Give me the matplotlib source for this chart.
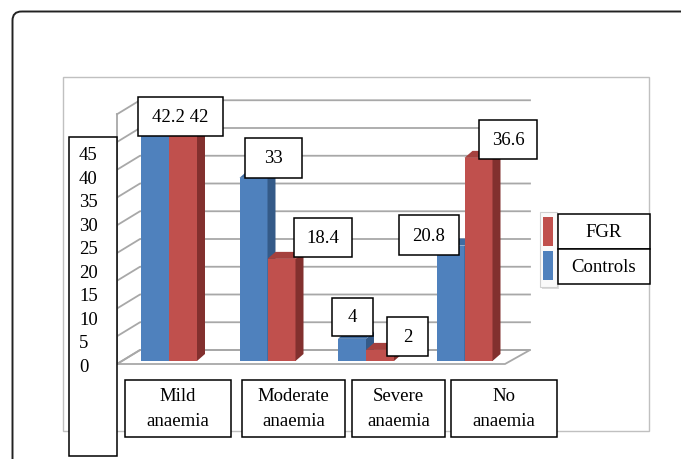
import matplotlib
matplotlib.use('Agg')
import matplotlib.pyplot as plt
from matplotlib.patches import Rectangle, Polygon, FancyBboxPatch

plt.rcParams['font.family'] = 'Liberation Serif'

categories = ['Mild\nanaemia', 'Moderate\nanaemia', 'Severe\nanaemia', 'No\nanaemia']
controls = [42.2, 33, 4, 20.8]
fgr = [42, 18.4, 2, 36.6]
yticks = [0, 5, 10, 15, 20, 25, 30, 35, 40, 45]
series = ['FGR', 'Controls']

blue, blue_side, blue_top = '#4F81BD', '#345A88', '#3F6CA2'
red, red_side, red_top = '#C0504D', '#82302E', '#A5413E'
grid = '#a8a8a8'
fs = 13.5

W, H = 681, 460
fig = plt.figure(figsize=(W / 100, H / 100), dpi=100)

# plot area: one unit per category, values going up
ax = fig.add_axes([0, 0, 1, 1])
ax.set_xlim(-169 / 98.5, (W - 169) / 98.5)
ax.set_ylim(-(H - 362) / 5.55, 362 / 5.55)
ax.axis('off')

# overlay in pixel units for frames and text boxes
ov = fig.add_axes([0, 0, 1, 1], facecolor='none')
ov.set_xlim(0, W)
ov.set_ylim(H, 0)
ov.axis('off')

# walls and floor (fake 3d)
back_dy = 11 / 5.55
front_dy = back_dy - 14 / 5.55
xl_f, xl_b = -52 / 98.5, -29 / 98.5
xr_f, xr_b = 336 / 98.5, 361 / 98.5

ax.add_patch(Polygon([(xl_f, front_dy), (xr_f, front_dy), (xr_b, back_dy), (xl_b, back_dy)],
                     closed=True, fc='white', ec=grid, lw=1.3, zorder=1))
for g in yticks:
    ax.plot([xl_f, xl_b, xr_b], [g + front_dy, g + back_dy, g + back_dy],
            color=grid, lw=1.3, zorder=1.5)
ax.plot([xl_f, xl_f], [front_dy, yticks[-1] + front_dy], color=grid, lw=1.3, zorder=1.5)

# bars
idx = list(range(len(categories)))
w = 28 / 98.5
dx, dy = 8 / 98.5, 7 / 5.55


def faces(x0, v, side, top, z):
    x1 = x0 + w
    ax.add_patch(Polygon([(x1, 0), (x1 + dx, dy), (x1 + dx, v + dy), (x1, v)],
                         closed=True, fc=side, ec='none', zorder=z))
    ax.add_patch(Polygon([(x0, v), (x0 + dx, v + dy), (x1 + dx, v + dy), (x1, v)],
                         closed=True, fc=top, ec='none', zorder=z))


ax.bar([i - w for i in idx], controls, width=w, align='edge', color=blue, zorder=3)
for i in idx:
    faces(i - w, controls[i], blue_side, blue_top, 3.1)
ax.bar(idx, fgr, width=w, align='edge', color=red, zorder=3.2)
for i in idx:
    faces(i, fgr[i], red_side, red_top, 3.3)


def px(x, y):
    X, Y = ax.transData.transform((x, y))
    return X, H - Y


def box(cx, cy, bw, bh, text, **kw):
    ov.add_patch(Rectangle((cx - bw / 2, cy - bh / 2), bw, bh, fc='white', ec='black',
                           lw=1.1, zorder=5))
    ov.text(cx, cy, text, ha='center', va='center', fontsize=fs, zorder=6, **kw)


# value labels
cx, cy = px(0, controls[0])
box(cx + 11.5, cy - 10, 85, 39, '{:g} {:g}'.format(controls[0], fgr[0]))
ctrl_lab = {1: (20, -20, 57, 40), 2: (0.5, -22, 41, 38), 3: (-21.5, -10.5, 60, 40)}
fgr_lab = {1: (41.5, -21, 58, 39), 2: (27.5, -13.5, 41, 39), 3: (29.5, -18.5, 58, 39)}
for i, (ox, oy, bw, bh) in ctrl_lab.items():
    cx, cy = px(i - w / 2, controls[i])
    box(cx + ox, cy + oy, bw, bh, '{:g}'.format(controls[i]))
for i, (ox, oy, bw, bh) in fgr_lab.items():
    cx, cy = px(i + w / 2, fgr[i])
    box(cx + ox, cy + oy, bw, bh, '{:g}'.format(fgr[i]))

# category labels
cat_x = [178, 293.5, 398.5, 504]
cat_w = [106, 103, 93, 106]
for c, x, bw in zip(categories, cat_x, cat_w):
    box(x, 409, bw, 57, c, linespacing=1.6)

# value axis labels in their own box
ov.add_patch(Rectangle((69, 138), 48, 319, fc='white', ec='black', lw=1.1, zorder=5))
for t in yticks:
    ov.text(79, 367.5 - t / 5 * 23.5, str(t), ha='left', va='center', fontsize=fs, zorder=6)

# legend
ov.add_patch(Rectangle((542, 215), 17, 75, fc='#dcdcdc', ec='none', zorder=4))
ov.add_patch(Rectangle((540, 213), 17, 75, fc='#fafafa', ec='#d0d0d0', lw=0.8, zorder=4.5))
ov.add_patch(Rectangle((543, 218), 10, 29, fc=red, ec='none', zorder=5))
ov.add_patch(Rectangle((543, 252), 10, 29, fc=blue, ec='none', zorder=5))
box(604, 232.5, 92, 35, series[0])
box(604, 267.5, 92, 35, series[1])

# chart frame and outer border
ov.add_patch(Rectangle((63, 78), 586, 354, fc='none', ec='#c0c0c0', lw=1.0, zorder=0.5))
ov.add_patch(FancyBboxPatch((12.5, 12.5), 700, 500, boxstyle='round,pad=0,rounding_size=9',
                            fc='none', ec='#222222', lw=1.4, zorder=7))

fig.savefig('out.png', dpi=100)
